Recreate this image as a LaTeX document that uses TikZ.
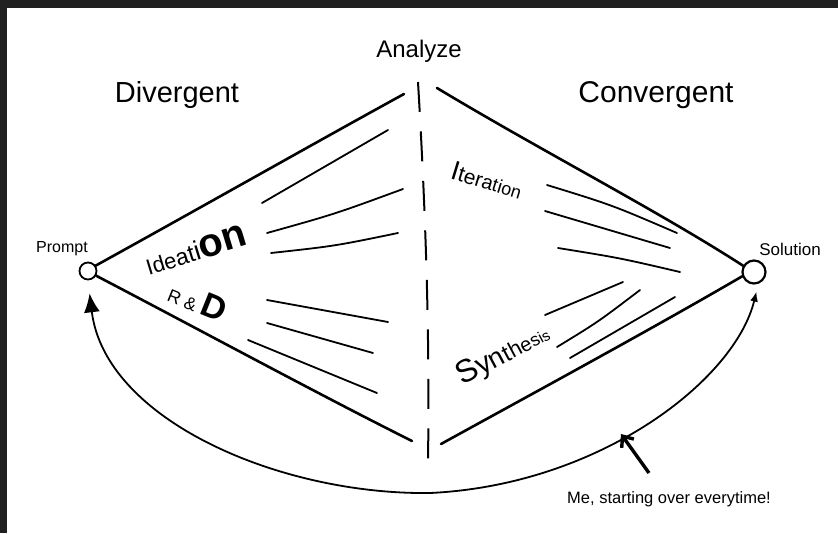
\documentclass[tikz,border=0pt]{standalone}
\usepackage{fontspec}
\setmainfont{Liberation Sans}
\usetikzlibrary{arrows.meta}
\definecolor{frame}{HTML}{202020}
\newcommand\fsz[2]{{\fontsize{#1}{#1}\selectfont#2}}

\begin{document}
\begin{tikzpicture}[x=1pt,y=-1pt,
  edge/.style={line width=2.6pt,line cap=round},
  fan/.style={line width=1.8pt,line cap=round},
  blob/.style={circle,draw,inner sep=0pt},
  lbl/.style={inner sep=0pt,font=\fontsize{#1}{#1}\selectfont}]
  \fill[frame] (0,0) rectangle (838,533);
  \fill[white] (7,8) rectangle (838,533);
  \useasboundingbox (0,0) rectangle (838,533);
  % start and end
  \node[blob,line width=1.8pt,minimum size=17pt] (P) at (88,271) {};
  \node[blob,line width=2.2pt,minimum size=23pt] (S) at (754,272) {};
  \coordinate (At) at (404,94); \coordinate (Ab) at (412,441);
  \coordinate (Ct) at (437,88); \coordinate (Cb) at (441,444);
  \coordinate (Dt) at (418,82); \coordinate (Db) at (428,460);
  \coordinate (mt) at (649,473); \coordinate (mh) at (621,434);
  % outline
  \draw[edge] (P.35) .. controls (200,208) and (320,140) .. (At);
  \draw[edge] (P.-30) .. controls (200,330) and (320,395) .. (Ab);
  \draw[edge] (Ct) .. controls (540,150) and (660,212) .. (S.150);
  \draw[edge] (Cb) .. controls (530,395) and (650,330) .. (S.-160);
  \draw[line width=2pt,dash pattern=on 30pt off 19.5pt] (Dt) .. controls (425,200) and (430,330) .. (Db);
  % divergent side
  \draw[fan] (262,203) -- (388,130);
  \draw[fan] (267,233) .. controls (335,214) .. (403,189);
  \draw[fan] (271,253) .. controls (335,246) .. (398,233);
  \draw[fan] (267,300) -- (388,322);
  \draw[fan] (267,323) -- (373,353);
  \draw[fan] (248,340) -- (377,393);
  % convergent side
  \draw[fan] (547,185) .. controls (612,205) .. (677,233);
  \draw[fan] (545,211) -- (670,248);
  \draw[fan] (558,248) .. controls (620,258) .. (680,272);
  \draw[fan] (623,282) -- (545,315);
  \draw[fan] (640,290) .. controls (598,322) .. (557,347);
  \draw[fan] (675,297) -- (570,358);
  % loop back
  \draw[line width=1.8pt,{Latex[length=19pt,width=16pt]}-{Latex[length=10pt,width=8pt]},
    shorten <=13pt,shorten >=8pt] (P.south) .. controls (105,420) and (280,495) .. (430,493)
    .. controls (600,485) and (735,380) .. (S.-70);
  \draw[line width=3.4pt,-{Straight Barb[length=9pt,width=15pt]}] (mt) -- (mh);
  % labels
  \node[lbl=24,anchor=base] (an) at (419,57) {Analyze};
  \node[lbl=29,anchor=base] (dv) at (177,102) {Divergent};
  \node[lbl=30,anchor=base] (cv) at (656,102) {Convergent};
  \node[lbl=16,anchor=base] (pr) at (62,252) {Prompt};
  \node[lbl=17,anchor=base] (so) at (790,255) {Solution};
  \node[lbl=16.5,anchor=base] (me) at (669,503) {Me, starting over everytime!};
  \node[inner sep=0pt,rotate=17] (id) at (196,250)
    {\fsz{22}{I}\fsz{22}{d}\fsz{22}{e}\fsz{23}{a}\fsz{24}{t}\fsz{27}{i}\fsz{40}{\bfseries on}};
  \node[inner sep=0pt,rotate=-22] (rd) at (198,301) {\fsz{18}{R \& }\fsz{34}{\bfseries D}};
  \node[inner sep=0pt,rotate=-17] (it) at (487,180)
    {\fsz{27}{I}\fsz{22}{t}\fsz{21}{e}\fsz{21}{r}\fsz{20}{a}\fsz{19}{t}\fsz{19}{i}\fsz{18}{o}\fsz{18}{n}};
  \node[inner sep=0pt,rotate=28] (sy) at (503,355)
    {\fsz{32}{S}\fsz{29}{y}\fsz{27}{n}\fsz{24}{t}\fsz{22}{h}\fsz{20}{e}\fsz{18}{s}\fsz{16}{i}\fsz{15}{s}};
\end{tikzpicture}
\end{document}
